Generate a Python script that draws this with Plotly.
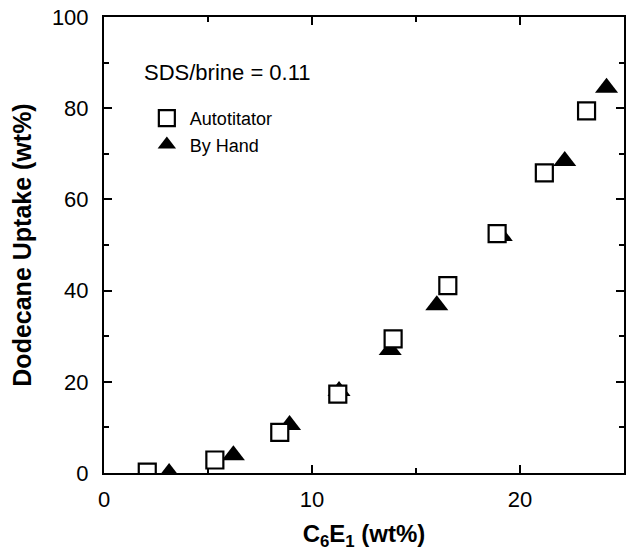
import plotly.graph_objects as go

# Autotitator (open squares)
auto_x = [2.08, 5.33, 8.45, 11.24, 13.9, 16.53, 18.9, 21.17, 23.2]
auto_y = [0.2, 2.85, 8.9, 17.3, 29.4, 41.1, 52.5, 65.8, 79.4]
# By Hand (filled triangles)
hand_x = [3.13, 6.22, 8.92, 11.3, 13.76, 16.0, 19.1, 22.15, 24.16]
hand_y = [0.0, 3.9, 10.5, 18.0, 27.0, 36.8, 52.0, 68.4, 84.5]

x_ticks = [0, 10, 20]
y_ticks = [0, 20, 40, 60, 80, 100]

FONT = "Liberation Sans, Arial, Helvetica, sans-serif"

fig = go.Figure()
fig.add_trace(go.Scatter(
    x=hand_x, y=hand_y, mode="markers", name="By Hand",
    marker=dict(symbol="triangle-up", size=20, color="black",
                line=dict(width=0)),
))
fig.add_trace(go.Scatter(
    x=auto_x, y=auto_y, mode="markers", name="Autotitator",
    marker=dict(symbol="square", size=17, color="white",
                line=dict(width=2.2, color="black")),
))

axis_common = dict(
    showline=True, linecolor="black", linewidth=2, mirror="allticks",
    ticks="inside", ticklen=8, tickwidth=2, tickcolor="black",
    showgrid=False, zeroline=False,
    tickfont=dict(family=FONT, size=22, color="black"),
)

fig.update_xaxes(
    range=[0, 25], tickvals=x_ticks, ticktext=[str(v) for v in x_ticks],
    minor=dict(tickvals=[5, 15, 25], ticks="inside", ticklen=5,
               tickwidth=1.5, tickcolor="black"),
    ticklabelstandoff=6,
    title=dict(text="<b>C<sub>6</sub>E<sub>1</sub> (wt%)</b>",
               font=dict(family=FONT, size=24, color="black"), standoff=14),
    **axis_common,
)
fig.update_yaxes(
    range=[0, 100], tickvals=y_ticks, ticktext=[str(v) for v in y_ticks],
    minor=dict(tickvals=[10, 30, 50, 70, 90], ticks="inside", ticklen=5,
               tickwidth=1.5, tickcolor="black"),
    ticklabelstandoff=9,
    title=dict(text="<b>Dodecane Uptake (wt%)</b>",
               font=dict(family=FONT, size=25, color="black"), standoff=13),
    **axis_common,
)

fig.add_annotation(
    text="SDS/brine = 0.11", xref="paper", yref="paper",
    x=(142 - 104) / 522, y=(473 - 72) / 456, xanchor="left", yanchor="middle",
    showarrow=False, font=dict(family=FONT, size=22, color="black"),
)

fig.update_layout(
    width=628, height=552,
    margin=dict(l=104, r=2, t=17, b=79),
    paper_bgcolor="white", plot_bgcolor="white",
    showlegend=True,
    legend=dict(
        x=(144 - 104) / 522, y=(473 - 100) / 456, xanchor="left", yanchor="top",
        traceorder="reversed", bgcolor="rgba(0,0,0,0)",
        font=dict(family=FONT, size=18, color="black"),
        itemsizing="trace", tracegroupgap=0, itemwidth=36,
    ),
)

fig.write_html("out.html", config={"displayModeBar": False},
               post_script="document.body.style.margin='0';")
